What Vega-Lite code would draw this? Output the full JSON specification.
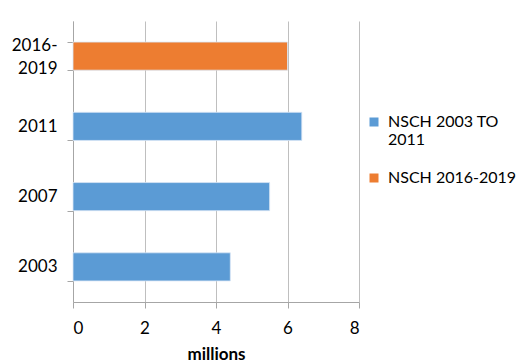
{
  "$schema": "https://vega.github.io/schema/vega-lite/v6.json",
  "width": 286,
  "height": 281,
  "autosize": {"type": "none"},
  "padding": {"left": 73, "top": 21, "right": 161, "bottom": 60},
  "background": "white",
  "data": {"values": [
    {"period": "2003", "value": 4.4, "series": "NSCH 2003 TO 2011"},
    {"period": "2007", "value": 5.5, "series": "NSCH 2003 TO 2011"},
    {"period": "2011", "value": 6.4, "series": "NSCH 2003 TO 2011"},
    {"period": "2016-2019", "value": 6.0, "series": "NSCH 2016-2019"}
  ]},
  "mark": {"type": "bar", "stroke": "#d9e6f5", "strokeWidth": 0.8},
  "encoding": {
    "y": {
      "field": "period", "type": "nominal",
      "sort": ["2016-2019", "2011", "2007", "2003"],
      "scale": {"paddingInner": 0.6, "paddingOuter": 0.3},
      "axis": {
        "title": null, "tickBand": "extent", "tickSize": 6, "labelPadding": 10,
        "labelExpr": "datum.label == '2016-2019' ? ['2016-', '2019'] : datum.label",
        "labelOffset": {"condition": {"test": "datum.value == '2016-2019'", "value": -11}, "value": 0},
        "labelFont": "Lato", "labelFontSize": 17, "labelColor": "#000",
        "labelLineHeight": 23,
        "domainColor": "#a6a6a6", "tickColor": "#a6a6a6", "grid": false
      }
    },
    "x": {
      "field": "value", "type": "quantitative",
      "scale": {"domain": [0, 8]},
      "axis": {
        "values": [0, 2, 4, 6, 8], "title": "millions",
        "titleFont": "Lato", "titleFontSize": 17, "titleFontWeight": "bold", "titleColor": "#000",
        "titlePadding": 10,
        "labelFont": "Lato", "labelFontSize": 17, "labelColor": "#000", "labelPadding": 12,
        "tickSize": 6, "domainColor": "#a6a6a6", "tickColor": "#a6a6a6",
        "grid": true, "gridColor": "#bfbfbf"
      }
    },
    "color": {
      "field": "series", "type": "nominal",
      "scale": {"domain": ["NSCH 2003 TO 2011", "NSCH 2016-2019"], "range": ["#5b9bd5", "#ed7d31"]},
      "legend": {
        "title": null, "orient": "none", "legendX": 293, "legendY": 93,
        "symbolType": "square", "symbolSize": 81, "symbolStrokeWidth": 0,
        "labelFont": "Lato", "labelFontSize": 16, "labelColor": "#000",
        "labelLineHeight": 23, "rowPadding": 22, "labelOffset": 6,
        "labelExpr": "datum.label == 'NSCH 2003 TO 2011' ? ['NSCH 2003 TO', '2011'] : datum.label",
        "labelLimit": 200
      }
    }
  },
  "config": {"view": {"stroke": null}}
}
